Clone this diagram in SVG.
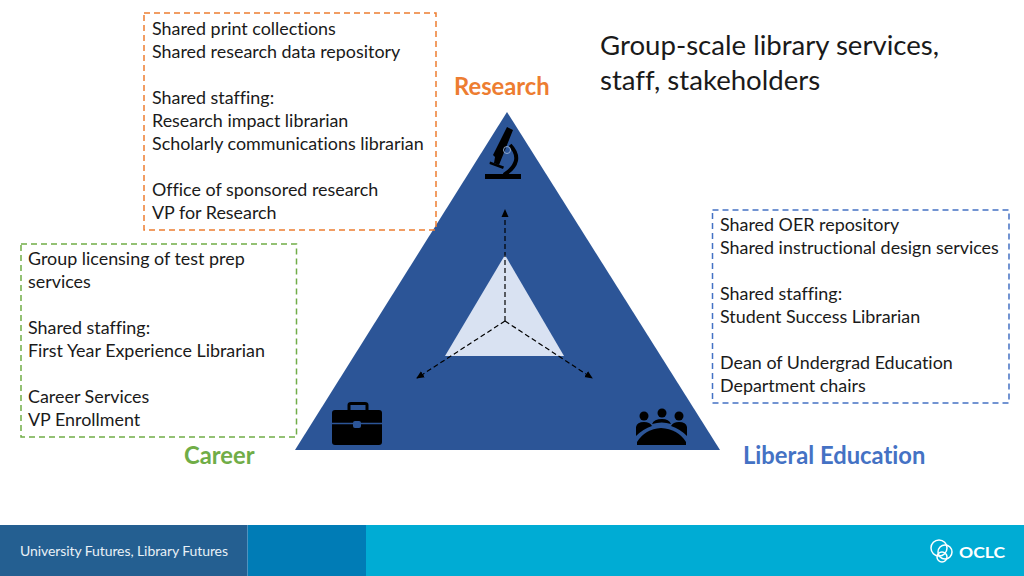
<svg xmlns="http://www.w3.org/2000/svg" width="1024" height="576" viewBox="0 0 1024 576">
<style>
text{font-family:"Lato","Open Sans","Liberation Sans",sans-serif;font-variant-ligatures:none}
.t{font-size:17.900px;fill:#1a1a1a}
.h{font-size:23.750px;font-weight:700}
.title{font-size:27.600px;fill:#1a1a1a}
.box{fill:none;stroke-width:1.500;stroke-dasharray:6 4}
.c{fill:none;stroke:#000;stroke-width:1.200;stroke-dasharray:5 3;marker-end:url(#a)}
.ico{fill:#000}
</style>
<defs><marker id="a" markerWidth="8" markerHeight="8" refX="7" refY="4" orient="auto" markerUnits="userSpaceOnUse"><path d="M0 0.500L8 4L0 7.500Z" fill="#000"/></marker></defs>
<rect width="1024" height="576" fill="#fff"/>
<g id="footer">
<rect x="0" y="525" width="1024" height="51" fill="#00acd4"/>
<rect x="0" y="525" width="366" height="51" fill="#007cb6"/>
<rect x="0" y="525" width="247" height="51" fill="#245f91"/>
<path d="M247.500 525V576" stroke="#4f93bf" stroke-width="1"/>
<text x="20" y="555.500" font-size="14" fill="#e8f0f6" textLength="208">University Futures, Library Futures</text>
<g id="oclc" fill="none" stroke="#fff" stroke-width="1.500"><circle cx="939" cy="548" r="8"/><circle cx="945" cy="552" r="7"/><circle cx="942" cy="557" r="5"/>
<text x="959" y="558" font-size="15.500" font-weight="700" fill="#fff" stroke="none" textLength="46" lengthAdjust="spacingAndGlyphs">OCLC</text></g>
</g>
<g id="triangle">
<path d="M507 112L720 450H295Z" fill="#2c5597"/>
<path d="M505 255L564 356H445Z" fill="#d9e2f2"/>
</g>
<g id="connectors">
<path class="c" d="M505 321V210"/>
<path class="c" d="M505 321L417 378"/>
<path class="c" d="M505 321L592 378"/>
</g>
<g id="icons">
<g id="microscope" class="ico">
<path d="M485 174H521V179H485Z"/>
<path d="M507 127L513 130L499 165L494 163L495 157L493 155Z"/>
<path d="M490 161.500L504 166.500L503 169L489.500 164Z"/>
<path d="M510 145Q525 161 504 175" fill="none" stroke="#000" stroke-width="4"/>
<circle cx="507" cy="150" r="3.500" fill="none" stroke="#8fa9d0" stroke-width="1"/>
</g>
<g id="briefcase">
<path class="ico" d="M335 410H379Q382 410 382 413V442Q382 445 379 445H335Q332 445 332 442V413Q332 410 335 410Z"/>
<path d="M349 410V405Q349 403.500 351 403.500H365Q367 403.500 367 405V410" fill="none" stroke="#000" stroke-width="3"/>
<path d="M332 423.500H382" stroke="#2c5597" stroke-width="1.500"/>
<rect x="353" y="421" width="8" height="7" rx="2" fill="#2c5597"/>
</g>
<g id="people" class="ico">
<circle cx="644" cy="416" r="4.500"/><circle cx="662" cy="413" r="4.500"/><circle cx="679" cy="416" r="4.500"/>
<path d="M636 436V427Q637 422 644 422Q650 422 652 426Q643 429 636 436Z"/>
<path d="M652 424Q654 419 662 419Q669 419 671 424Q662 421 652 424Z"/>
<path d="M671 426Q673 422 679 422Q686 422 687 427V436Q680 429 671 426Z"/>
<path d="M637 445V442Q645 429 661 428Q678 429 686 442V445Z"/>
</g>
</g>
<g id="research">
<rect class="box" x="144" y="13" width="292" height="217" stroke="#ed7d31"/>
<text class="t"><tspan x="152" y="35">Shared print collections</tspan><tspan x="152" y="58">Shared research data repository</tspan><tspan x="152" y="104">Shared staffing:</tspan><tspan x="152" y="127">Research impact librarian</tspan><tspan x="152" y="150">Scholarly communications librarian</tspan><tspan x="152" y="196">Office of sponsored research</tspan><tspan x="152" y="219">VP for Research</tspan></text>
<text class="h" x="454" y="95" fill="#ed7d31">Research</text>
</g>
<g id="career">
<rect class="box" x="21" y="244" width="275.500" height="193" stroke="#70ad47"/>
<text class="t"><tspan x="28" y="265">Group licensing of test prep</tspan><tspan x="28" y="288">services</tspan><tspan x="28" y="334">Shared staffing:</tspan><tspan x="28" y="357">First Year Experience Librarian</tspan><tspan x="28" y="403">Career Services</tspan><tspan x="28" y="426">VP Enrollment</tspan></text>
<text class="h" x="184" y="464" fill="#70ad47">Career</text>
</g>
<g id="liberal">
<rect class="box" x="712.500" y="210" width="296.500" height="193" stroke="#4472c4"/>
<text class="t"><tspan x="720" y="231">Shared OER repository</tspan><tspan x="720" y="254">Shared instructional design services</tspan><tspan x="720" y="300">Shared staffing:</tspan><tspan x="720" y="323">Student Success Librarian</tspan><tspan x="720" y="369">Dean of Undergrad Education</tspan><tspan x="720" y="392">Department chairs</tspan></text>
<text class="h" x="743" y="464" fill="#4472c4">Liberal Education</text>
</g>
<g id="title"><text class="title"><tspan x="600" y="55">Group-scale library services,</tspan><tspan x="600" y="90">staff, stakeholders</tspan></text></g>
</svg>
